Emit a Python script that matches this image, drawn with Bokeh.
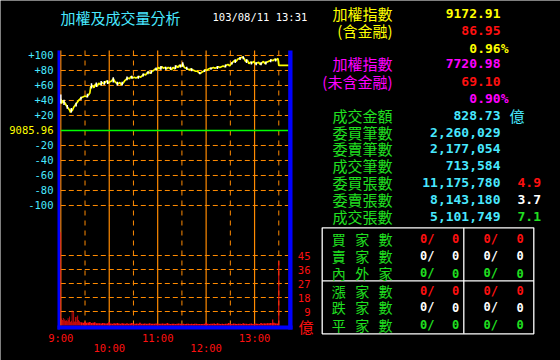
from bokeh.plotting import figure
from bokeh.models import Range1d
from bokeh.core.properties import value
from bokeh.embed import file_html
from bokeh.resources import INLINE

# ---------------- data ----------------
title = "加權及成交量分析"
stamp = "103/08/11 13:31"
base_index = "9085.96"

# minutes after 9:00 and change in points vs. previous close
price_t = [0, 1, 2, 3, 5, 7, 9, 11, 12, 13, 14, 16, 18, 20, 22, 24, 26, 28, 30, 32, 34, 36, 37, 39, 41, 43, 45, 47, 49,
           51, 53, 55, 57, 59, 61, 63, 65, 67, 69, 71, 73, 75, 77, 79, 81, 83, 85, 87, 89, 91, 93, 95, 97, 99,
           101, 103, 105, 107, 109, 111, 113, 115, 117, 119, 121, 123, 125, 127, 129, 131, 133, 135, 137, 139,
           141, 143, 145, 147, 149, 151, 153, 155, 157, 159, 161, 163, 165, 167, 169, 171, 173, 175, 177, 179,
           181, 183, 185, 187, 189, 191, 193, 195, 197, 199, 201, 203, 205, 207, 209, 211, 213, 215, 217, 219,
           221, 223, 225, 227, 229, 231, 233, 235, 237, 239, 241, 243, 245, 247, 249, 251, 253, 255, 257, 259,
           261, 263, 265, 267, 269, 270, 283]
price_v = [42, 36, 40, 38, 37, 33, 30, 27, 24, 28, 26, 31, 34, 37, 40, 42, 44, 45, 46, 45, 47, 50, 58, 60, 57, 62, 59, 63, 61,
           64, 62, 64, 66, 63, 65, 66, 69, 65, 63, 62, 64, 61, 63, 66, 68, 70, 69, 72, 70, 71, 70, 71, 72, 71,
           73, 75, 74, 77, 78, 76, 79, 80, 82, 81, 84, 82, 85, 83, 84, 82, 84, 83, 81, 84,
           82, 86, 84, 87, 85, 89, 84, 83, 82, 81, 82, 81, 80, 79, 79, 77, 76, 78, 79, 81,
           80, 82, 83, 83, 84, 83, 84, 85, 84, 85, 86, 85, 87, 88, 86, 89, 91, 93, 92, 95,
           96, 97, 98, 96, 92, 94, 89, 91, 90, 92, 89, 90, 91, 88, 90, 92, 89, 91, 92, 93,
           94, 93, 95, 94, 96, 86.95, 86.95]

# white tick spikes
spike_t = [0, 4, 8, 13, 19, 25, 33, 38, 44, 50, 54, 58, 65, 70, 76, 82, 88, 96, 102, 108, 112, 118, 124, 130, 136,
           142, 148, 151, 156, 162, 172, 178, 186, 194, 204, 212, 216, 222, 226, 230, 236, 242, 248, 254, 260, 266]
spike_lo = [36, 34, 29, 24, 32, 41, 44, 56, 58, 60, 61, 62, 64, 60, 60, 67, 69, 69, 72, 75, 76, 80, 81, 81, 81,
            82, 84, 85, 81, 79, 75, 78, 81, 82, 84, 88, 90, 94, 95, 90, 88, 87, 87, 88, 91, 92]
spike_hi = [48, 41, 34, 30, 37, 45, 49, 63, 64, 66, 66, 67, 71, 65, 65, 72, 73, 73, 76, 79, 80, 84, 86, 85, 85,
            87, 88, 91, 85, 83, 78, 81, 84, 86, 88, 91, 95, 98, 99, 95, 92, 91, 91, 92, 95, 96]

# volume (億) per minute for the first minutes
vol1_t = list(range(0, 26))
vol1_v = [60, 4.5, 3.5, 4.8, 3.2, 4.0, 3.0, 3.4, 2.8, 4.6, 3.5, 5.8, 2.4, 3.0, 9.6, 2.0, 8.6, 2.5, 5.4, 2.2,
          5.6, 6.4, 3.6, 2.8, 2.1, 2.3]
# volume in 2-minute bins from 9:26 on
vol2_t = list(range(26, 269, 2))
vol2_v = [2.0, 1.8, 2.4, 1.7, 1.9, 2.3, 1.6, 1.8, 2.1, 1.5,
          1.4, 1.5, 1.3, 1.6, 1.4, 1.3, 1.5, 2.2, 1.3, 1.2, 1.4, 1.3, 1.6, 1.3, 1.2, 1.5, 1.3, 1.2,
          1.4, 1.2, 1.3, 1.6, 1.2, 1.1, 1.3, 1.2, 1.7, 1.2, 1.1, 1.3, 1.2, 1.1, 1.4, 1.2, 1.1, 1.2, 1.3, 1.1,
          1.2, 1.1, 1.3, 1.1, 1.2, 1.6, 1.1, 1.0, 1.2, 1.1, 1.0, 1.1, 1.3, 1.1, 1.0, 1.1, 1.0, 1.2, 1.1, 1.0,
          1.1, 1.0, 1.2, 1.1, 1.0, 1.0, 0.9, 1.0, 1.1, 1.8, 1.1, 1.0, 1.2, 1.1, 1.3, 1.0, 1.5, 1.1, 1.0, 1.1,
          1.0, 1.2, 1.1, 1.6, 1.1, 1.0, 1.3, 1.1, 1.0, 1.2, 1.1, 1.0, 1.4, 1.1, 1.2, 1.0, 1.1, 1.3, 1.0, 1.1,
          1.2, 1.1, 1.0, 1.6, 1.2, 1.4, 1.3, 1.5, 1.4, 1.6, 1.5, 1.7, 1.4, 1.3]
vol3_t = [262.5, 270]
vol3_v = [3.9, 41.5]

price_ticks = [100, 80, 60, 40, 20, -20, -40, -60, -80, -100]
vol_ticks = [45, 36, 27, 18, 9]
time_ticks = [0, 60, 120, 180, 240]
time_labels = ["9:00", "10:00", "11:00", "12:00", "13:00"]
solid_times = [0, 60, 120, 180, 240]
dash_times = [30, 90, 150, 210, 270]

# right panel
idx_labels = ["加權指數", "(含金融)"]
idx_value = "9172.91"
idx_change = "86.95"
idx_pct = "0.96%"
ex_labels = ["加權指數", "(未含金融)"]
ex_value = "7720.98"
ex_change = "69.10"
ex_pct = "0.90%"
stat_labels = ["成交金額", "委買筆數", "委賣筆數", "成交筆數", "委買張數", "委賣張數", "成交張數"]
stat_values = ["828.73", "2,260,029", "2,177,054", "713,584", "11,175,780", "8,143,180", "5,101,749"]
ratio_values = ["4.9", "3.7", "7.1"]
table_labels = ["買家數", "賣家數", "內外家", "漲家數", "跌家數", "平家數"]
table_a = ["0/", "0/", "0/", "0/", "0/", "0/"]
table_b = ["0", "0", "0", "0", "0", "0"]

# ---------------- styles ----------------
CYAN = "#48e8ff"
YEL = "#ffff00"
MAG = "#ff00ff"
RED = "#ff1010"
GRN = "#20e020"
WHT = "#ffffff"
ORG = "#ff8a00"
BLUE = "#0000ff"
CJK = "Noto Sans CJK TC"
MONO = "DejaVu Sans Mono"

p = figure(width=560, height=360, output_backend="svg", toolbar_location=None,
           x_range=Range1d(0, 560), y_range=Range1d(360, 0), min_border=0,
           x_axis_location=None, y_axis_location=None,
           background_fill_color="black", border_fill_color="black", outline_line_color=None)
p.title.visible = False
p.grid.grid_line_color = None

# scales: time (minutes after 9:00), price change, volume
p.extra_x_ranges = {"t": Range1d(-74.68, 618.9)}
p.extra_y_ranges = {"pr": Range1d(-306.67, 173.33), "vol": Range1d(-22.5, 208.93)}

T0, T1 = 0, 281.5
P_TOP, P_BOT = 106.67, -260.0


def txt(x, y, s, color, size, font, align="left", bold=False, **kw):
    p.text(x=[x], y=[y], text=[s], text_color=color, text_font=value(font),
           text_font_size=f"{size}px", text_align=align, text_baseline="middle",
           text_font_style="bold" if bold else "normal", **kw)


# grid
p.segment(x0=[T0] * len(price_ticks), x1=[T1] * len(price_ticks), y0=price_ticks, y1=price_ticks,
          x_range_name="t", y_range_name="pr", line_color=ORG, line_width=1, line_dash="5 3")
p.segment(x0=[T0] * len(vol_ticks), x1=[T1] * len(vol_ticks), y0=vol_ticks, y1=vol_ticks,
          x_range_name="t", y_range_name="vol", line_color=ORG, line_width=1, line_dash="5 3")
p.segment(x0=dash_times, x1=dash_times, y0=[P_TOP] * 5, y1=[P_BOT] * 5,
          x_range_name="t", y_range_name="pr", line_color=ORG, line_width=1, line_dash="5 5")
p.segment(x0=solid_times, x1=solid_times, y0=[P_TOP] * 5, y1=[P_BOT] * 5,
          x_range_name="t", y_range_name="pr", line_color=ORG, line_width=1.2)
p.segment(x0=[T0], x1=[T1], y0=[0], y1=[0], x_range_name="t", y_range_name="pr",
          line_color="#00ff00", line_width=1.5)

# volume
p.vbar(x=vol1_t, top=vol1_v, width=0.9, bottom=0, x_range_name="t", y_range_name="vol",
       fill_color=RED, line_color=None)
p.vbar(x=vol2_t, top=vol2_v, width=2.05, bottom=0, x_range_name="t", y_range_name="vol",
       fill_color=RED, line_color=None)
p.vbar(x=vol3_t, top=vol3_v, width=1.3, bottom=0, x_range_name="t", y_range_name="vol",
       fill_color=RED, line_color=None)

# price
p.line(x=price_t, y=price_v, x_range_name="t", y_range_name="pr", line_color=YEL, line_width=1.7)
p.segment(x0=spike_t, x1=spike_t, y0=spike_lo, y1=spike_hi, x_range_name="t", y_range_name="pr",
          line_color=WHT, line_width=1.5)

# blue frame bars
p.quad(left=[57, 287.7, 57], right=[59.6, 292, 292], top=[50, 50, 325], bottom=[329, 329, 329],
       fill_color=BLUE, line_color=None)

# axis labels
p.text(x=[53] * len(price_ticks), y=price_ticks, text=[f"{v:+d}" for v in price_ticks],
       y_range_name="pr", text_color=CYAN, text_font=value(MONO), text_font_size="10.5px",
       text_align="right", text_baseline="middle")
p.text(x=[53], y=[0], text=[base_index], y_range_name="pr", text_color=YEL, text_font=value(MONO),
       text_font_size="10.5px", text_align="right", text_baseline="middle")
p.text(x=[310] * len(vol_ticks), y=vol_ticks, text=[str(v) for v in vol_ticks], y_range_name="vol",
       text_color=RED, text_font=value(MONO), text_font_size="10.5px", text_align="right",
       text_baseline="middle")
txt(305.5, 326, "億", RED, 15, CJK, align="center")
p.text(x=time_ticks, y=[337.5, 347.5, 337.5, 347.5, 337.5], text=time_labels, x_range_name="t",
       text_color=RED, text_font=value(MONO), text_font_size="10.5px", text_align="center",
       text_baseline="middle")

# title
txt(60, 17, title, CYAN, 15, CJK)
txt(212, 16.5, stamp, WHT, 10.5, MONO)

# right panel
LX = 392
VX = 500
txt(LX, 12.7, idx_labels[0], YEL, 15, CJK, align="right")
txt(LX, 29.5, idx_labels[1], YEL, 15, CJK, align="right")
txt(VX, 12.5, idx_value, YEL, 13, MONO, align="right", bold=True)
txt(VX, 29.5, idx_change, RED, 13, MONO, align="right", bold=True)
txt(508, 47.5, idx_pct, YEL, 13, MONO, align="right", bold=True)
txt(LX, 63.3, ex_labels[0], MAG, 15, CJK, align="right")
txt(LX, 81, ex_labels[1], MAG, 15, CJK, align="right")
txt(VX, 63.3, ex_value, MAG, 13, MONO, align="right", bold=True)
txt(VX, 80.5, ex_change, RED, 13, MONO, align="right", bold=True)
txt(508, 97.5, ex_pct, MAG, 13, MONO, align="right", bold=True)

row_y = [114.5, 131.5, 148.3, 165, 181.7, 199, 215.8]
for lab, val, yy in zip(stat_labels, stat_values, row_y):
    txt(LX, yy, lab, GRN, 15, CJK, align="right")
    txt(VX, yy, val, CYAN, 13, MONO, align="right", bold=True)
txt(516.5, 114.5, "億", CYAN, 15, CJK, align="center")
for rv, col, yy in zip(ratio_values, [RED, WHT, GRN], row_y[4:]):
    txt(517, yy, rv, col, 13, MONO, bold=True)

# table
p.quad(left=[321.7], right=[533.3], top=[227.3], bottom=[333.3], fill_color=None, line_color=WHT, line_width=1.3)
p.segment(x0=[463.3, 321.7], x1=[463.3, 533.3], y0=[227.3, 280.3], y1=[333.3, 280.3], line_color=WHT, line_width=1.3)
t_rows = [238.3, 255, 272.7, 290, 306.7, 324]
t_cols = [RED, WHT, GRN, RED, WHT, GRN]
for lab, a, b, yy, col in zip(table_labels, table_a, table_b, t_rows, t_cols):
    for ch, cx in zip(lab, [338.3, 361.7, 385]):
        txt(cx, yy, ch, GRN, 14, CJK, align="center")
    txt(419.5, yy, a, col, 12, MONO, bold=True)
    txt(455, yy, b, col, 12, MONO, align="center", bold=True)
    txt(483, yy, a, col, 12, MONO, bold=True)
    txt(519.5, yy, b, col, 12, MONO, align="center", bold=True)

open("out.html", "w").write(file_html(p, INLINE))
